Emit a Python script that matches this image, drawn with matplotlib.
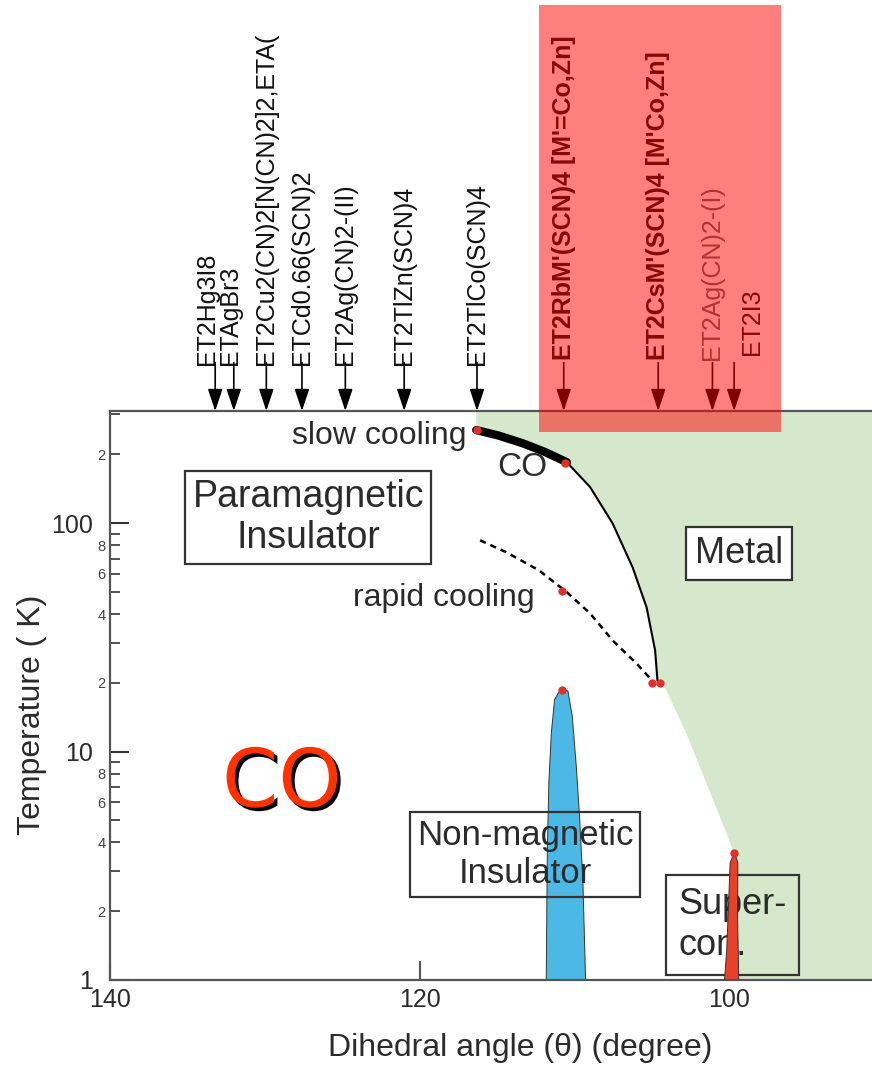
import math
import matplotlib
matplotlib.use("Agg")
import matplotlib.pyplot as plt
import matplotlib.patheffects as pe
from matplotlib.patches import Rectangle
from matplotlib.ticker import LogLocator, FuncFormatter, FixedLocator

plt.rcParams['font.family'] = ['Liberation Sans', 'DejaVu Sans']

# salts marked on the top axis (dihedral angle in degree)
salt_names = ["ET2Hg3I8", "ETAgBr3", "ET2Cu2(CN)2[N(CN)2]2,ETA(", "ETCd0.66(SCN)2",
              "ET2Ag(CN)2-(II)", "ET2TlZn(SCN)4", "ET2TlCo(SCN)4",
              "ET2RbM'(SCN)4 [M'=Co,Zn]", "ET2CsM'(SCN)4 [M'Co,Zn]",
              "ET2Ag(CN)2-(I)", "ET2I3"]
salt_angle = [133.2, 132.0, 129.9, 127.6, 124.8, 121.0, 116.3, 110.7, 104.6, 101.1, 99.7]
salt_bold = [False] * 7 + [True, True, False, False]

# charge-order transition (slow cooling)
co_theta = [116.35, 114.9, 113.35, 111.9, 110.5, 109.0, 107.55, 106.25, 105.35, 104.8, 104.65]
co_T = [256, 242, 224, 205, 185, 144, 100, 64, 42.8, 27.7, 20.5]

# rapid cooling line
rc_theta = [116.1, 114.4, 112.3, 110.5, 109.0, 107.55, 106.0, 105.0]
rc_T = [84.2, 74.6, 62.2, 49.9, 40.3, 30.7, 24.3, 20.5]

# metal boundary below the CO line
mb_theta = [104.3, 102.8, 101.5, 100.2, 99.78, 99.35]
mb_T = [20.0, 12.1, 7.3, 4.4, 3.7, 1.0]

# non-magnetic insulator dome
nmi_theta = [111.83, 111.76, 111.66, 111.5, 111.29, 110.86, 110.43, 110.15, 109.89, 109.68, 109.46, 109.29]
nmi_T = [1, 3.72, 7.31, 12.1, 16.9, 19.0, 18.4, 14.3, 8.62, 5.2, 2.66, 1]

# superconducting dome
sc_theta = [100.32, 100.18, 100.05, 99.96, 99.68, 99.46, 99.48, 99.40]
sc_T = [1, 1.35, 2.24, 3.25, 3.65, 3.25, 1.9, 1]

# measured points
dot_theta = [116.3, 110.6, 110.8, 105.0, 104.5, 110.8, 99.7]
dot_T = [256, 183, 50.4, 20, 20, 18.7, 3.6]

xmin, xmax = 140, 90.8
ymin, ymax = 1, 310
txt = '#2b2b2b'


def minor_label(v, pos):
    m = round(v / 10 ** math.floor(math.log10(v) + 1e-9))
    return str(m) if m in (2, 4, 6, 8) else ''


fig = plt.figure(figsize=(8.72, 10.69), dpi=100)
ax = fig.add_axes([0.126, 0.0833, 0.874, 0.5322])
ax.set_yscale('log')
ax.set_xlim(xmin, xmax)
ax.set_ylim(ymin, ymax)

# metal region
gx = [co_theta[0]] + co_theta + mb_theta + [xmax, xmax]
gy = [ymax] + co_T + mb_T + [ymin, ymax]
ax.fill(gx, gy, color='#d5e8cc', lw=0, zorder=1)

# domes
ax.fill(nmi_theta, nmi_T, facecolor='#4cb8e6', edgecolor='#333333', lw=0.7, zorder=2)
ax.fill(sc_theta, sc_T, facecolor='#e8402a', edgecolor='#333333', lw=0.7, zorder=6)

# lines
ax.plot(co_theta, co_T, color='black', lw=1.5, zorder=3)
ax.plot(co_theta[:5], co_T[:5], color='black', lw=6, solid_capstyle='round', zorder=3)
ax.plot(rc_theta, rc_T, color='black', lw=1.8, dashes=(2.5, 2), zorder=3)
ax.plot(dot_theta, dot_T, 'o', color='#e0302a', ms=6, mec='none', zorder=7)

# labels inside the plot
ax.text(117.0, 240, "slow cooling", ha='right', va='center', fontsize=23, color=txt, zorder=5)
ax.text(113.4, 176, "CO", ha='center', va='center', fontsize=24, color=txt, zorder=5)
ax.text(112.6, 46.9, "rapid cooling", ha='right', va='center', fontsize=23, color=txt, zorder=5)
box = dict(boxstyle='square,pad=0.2', fc='none', ec='#333333', lw=1.6)
ax.text(127.2, 106, "Paramagnetic\nInsulator", ha='center', va='center', fontsize=27,
        color=txt, bbox=dict(box, fc='white'), zorder=5)
ax.text(99.4, 73.9, "Metal", ha='center', va='center', fontsize=26, color=txt,
        bbox=dict(boxstyle='square,pad=0.25', fc='white', ec='#333333', lw=1.6), zorder=5)
ax.text(113.2, 3.53, "Non-magnetic\nInsulator", ha='center', va='center', fontsize=25,
        color=txt, bbox=box, zorder=5)
ax.text(99.8, 1.74, "Super-\ncon.", ha='center', va='center', multialignment='left',
        fontsize=26, color=txt, bbox=dict(boxstyle='square,pad=0.35', fc='none',
                                          ec='#333333', lw=1.6), zorder=5)
ax.text(128.9, 7.17, "CO", ha='center', va='center', fontsize=58, color='#ff3300',
        family='DejaVu Sans', zorder=5,
        path_effects=[pe.SimplePatchShadow(offset=(2.5, -2.5), shadow_rgbFace='black', alpha=1),
                      pe.Normal()])

# arrows and salt names on top
dx_pts = [-6, -3, 0, 0, 0, 0, 0, 0, 0, 0, 13]
ybot = [1.081, 1.081, 1.081, 1.081, 1.081, 1.081, 1.081, 1.09, 1.09, 1.09, 1.098]
for name, th, bold, dx, yb in zip(salt_names, salt_angle, salt_bold, dx_pts, ybot):
    ax.annotate('', xy=(th, 1.0), xytext=(th, 1.085),
                xycoords=('data', 'axes fraction'),
                arrowprops=dict(arrowstyle='-|>,head_length=0.9,head_width=0.3',
                                mutation_scale=15, color='black', lw=1.2,
                                shrinkA=0, shrinkB=0), annotation_clip=False)
    col = '#666666' if name == "ET2Ag(CN)2-(I)" else '#111111'
    ax.annotate(name, xy=(th, yb), xycoords=('data', 'axes fraction'),
                xytext=(dx, 0), textcoords='offset points', rotation=90,
                ha='center', va='bottom', fontsize=18, color=col,
                fontweight='bold' if bold else 'normal', annotation_clip=False)

# axes styling
for s in ['left', 'bottom', 'top']:
    ax.spines[s].set_color('#555555')
    ax.spines[s].set_linewidth(1.6)
ax.spines['right'].set_visible(False)

ax.xaxis.set_major_locator(FixedLocator([140, 120, 100]))
ax.xaxis.set_minor_locator(FixedLocator([]))
ax.tick_params(axis='x', which='major', direction='in', length=14, width=1.5,
               color='#555555', labelsize=18, labelcolor=txt, pad=6)

ax.yaxis.set_major_locator(LogLocator(base=10))
ax.yaxis.set_minor_locator(LogLocator(base=10, subs=range(2, 10)))
ax.yaxis.set_major_formatter(FuncFormatter(lambda v, p: f"{v:g}"))
ax.yaxis.set_minor_formatter(FuncFormatter(minor_label))
ax.tick_params(axis='y', which='major', direction='in', length=14, width=1.5,
               color='#333333', labelsize=18, labelcolor=txt, pad=12)
ax.tick_params(axis='y', which='minor', direction='in', length=7, width=1.2,
               color='#333333', labelsize=10.5, labelcolor='#444444', pad=3)

ax.set_ylabel("Temperature ( K)", fontsize=23, color=txt)
ax.yaxis.set_label_coords(-0.082, 0.466)
ax.set_xlabel("Dihedral angle (θ) (degree)", fontsize=23, color=txt)
ax.xaxis.set_label_coords(0.539, -0.093)

# highlighted group of salts
fig.add_artist(Rectangle((539 / 872, 1 - 432 / 1069), 242 / 872, 427 / 1069,
                         transform=fig.transFigure, facecolor='red', alpha=0.5,
                         lw=0, zorder=10))

fig.savefig("out.png", dpi=100)
